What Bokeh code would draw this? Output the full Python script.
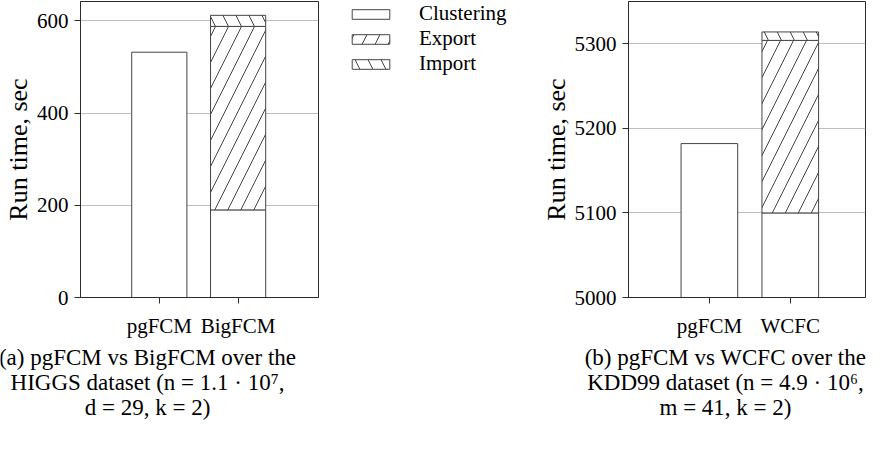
from bokeh.plotting import figure
from bokeh.models import Range1d, Legend, LegendItem, ColumnDataSource
from bokeh.layouts import column, row
from bokeh.embed import file_html
from bokeh.resources import INLINE
from bokeh.core.properties import value

NA = float("nan")

# ---------------- data ----------------
series = ["Clustering", "Export", "Import"]
hatches = [" ", "/", "\\"]

cats_a = ["pgFCM", "BigFCM"]
clustering_a = [532, 190]
export_a = [NA, 398]
import_a = [NA, 24]
ticks_a = [0, 200, 400, 600]
ylim_a = (0, 642)

cats_b = ["pgFCM", "WCFC"]
clustering_b = [5182, 5100]
export_b = [NA, 204]
import_b = [NA, 10]
ticks_b = [5000, 5100, 5200, 5300]
ylim_b = (5000, 5350)

ylabel = "Run time, sec"
caption_a = ["(a) pgFCM vs BigFCM over the",
             "HIGGS dataset (n = 1.1 · 10⁷,",
             "d = 29, k = 2)"]
caption_b = ["(b) pgFCM vs WCFC over the",
             "KDD99 dataset (n = 4.9 · 10⁶,",
             "m = 41, k = 2)"]

FONT = "Liberation Serif"
EDGE = "#444444"
SPINE = "#2b2b2b"
HSCALE = 26
BAR_STYLE = dict(fill_color="white", line_color=EDGE, line_width=1,
                 hatch_pattern=hatches, hatch_color=EDGE,
                 hatch_weight=1, hatch_scale=HSCALE)


def make_panel(cats, clus, exp, imp, ticks, ylim, width, left, right, xend):
    p = figure(width=width, height=340, output_backend="svg", toolbar_location=None,
               x_range=Range1d(-1, xend), y_range=Range1d(*ylim),
               min_border_left=left, min_border_right=right,
               min_border_top=1, min_border_bottom=33)
    src = ColumnDataSource(dict(x=list(range(len(cats))), Clustering=clus,
                                Export=exp, Import=imp))
    rs = p.vbar_stack(series, x="x", width=0.7, source=src, **BAR_STYLE)
    p.xgrid.visible = False
    p.ygrid.grid_line_color = "#bdbdbd"
    p.ygrid.grid_line_width = 1
    p.yaxis.ticker = ticks
    p.xaxis.ticker = list(range(len(cats)))
    p.xaxis.major_label_overrides = {i: c for i, c in enumerate(cats)}
    for ax in (p.xaxis[0], p.yaxis[0]):
        ax.axis_line_color = SPINE
        ax.major_tick_line_color = SPINE
        ax.major_tick_out = 6
        ax.major_tick_in = 0
        ax.minor_tick_line_color = None
        ax.major_label_text_font = FONT
        ax.major_label_text_font_size = "21px"
        ax.major_label_text_color = "black"
        ax.major_label_standoff = 6
    p.xaxis.major_label_standoff = 10
    p.yaxis.axis_label = ylabel
    p.yaxis.axis_label_text_font = FONT
    p.yaxis.axis_label_text_font_size = "26px"
    p.yaxis.axis_label_text_font_style = "normal"
    p.yaxis.axis_label_text_color = "black"
    p.yaxis.axis_label_standoff = 1
    p.outline_line_color = SPINE
    p.outline_line_alpha = 1
    p.background_fill_color = "white"
    p.border_fill_color = "white"
    return p, rs, src


pa, rsa, src_a = make_panel(cats_a, clustering_a, export_a, import_a, ticks_a, ylim_a,
                            319, 73, 1, 2.02)
pb, rsb, src_b = make_panel(cats_b, clustering_b, export_b, import_b, ticks_b, ylim_b,
                            346, 108, 1, 1.93)

# legend panel between the two charts: same bar styles, renderers hidden
pl = figure(width=201, height=340, output_backend="svg", toolbar_location=None,
            x_range=Range1d(-1, 2), y_range=Range1d(-3000, -2000),
            min_border_left=28, min_border_top=0, min_border_right=0,
            min_border_bottom=0)
pl.axis.visible = False
pl.grid.visible = False
pl.outline_line_color = None
pl.background_fill_color = "white"
pl.border_fill_color = "white"
swatches = pl.vbar_stack(series, x="x", width=0.7, source=src_a, **BAR_STYLE)
for r in swatches:
    r.visible = False
items = [LegendItem(label=s, renderers=[r]) for s, r in zip(series, swatches)]
lg = Legend(items=items, location="top_left", orientation="vertical",
            margin=0, padding=0, spacing=0, click_policy="none",
            glyph_width=47, glyph_height=12, label_standoff=25,
            label_text_font=FONT, label_text_font_size="21px",
            label_text_color="black",
            border_line_color=None, background_fill_alpha=0)
pl.add_layout(lg)

cap = figure(width=866, height=112, output_backend="svg", toolbar_location=None,
             x_range=Range1d(0, 866), y_range=Range1d(112, 0),
             min_border=0)
cap.axis.visible = False
cap.grid.visible = False
cap.outline_line_color = None
line_y = [17, 42, 67]
cap.text(x=[147] * 3, y=line_y, text=caption_a, text_font=value(FONT),
         text_font_size="23px", text_align="center", text_baseline="alphabetic",
         text_color="black")
cap.text(x=[725] * 3, y=line_y, text=caption_b, text_font=value(FONT),
         text_font_size="23px", text_align="center", text_baseline="alphabetic",
         text_color="black")

layout = column(row(pa, pl, pb), cap)
open("out.html", "w").write(file_html(layout, INLINE))
